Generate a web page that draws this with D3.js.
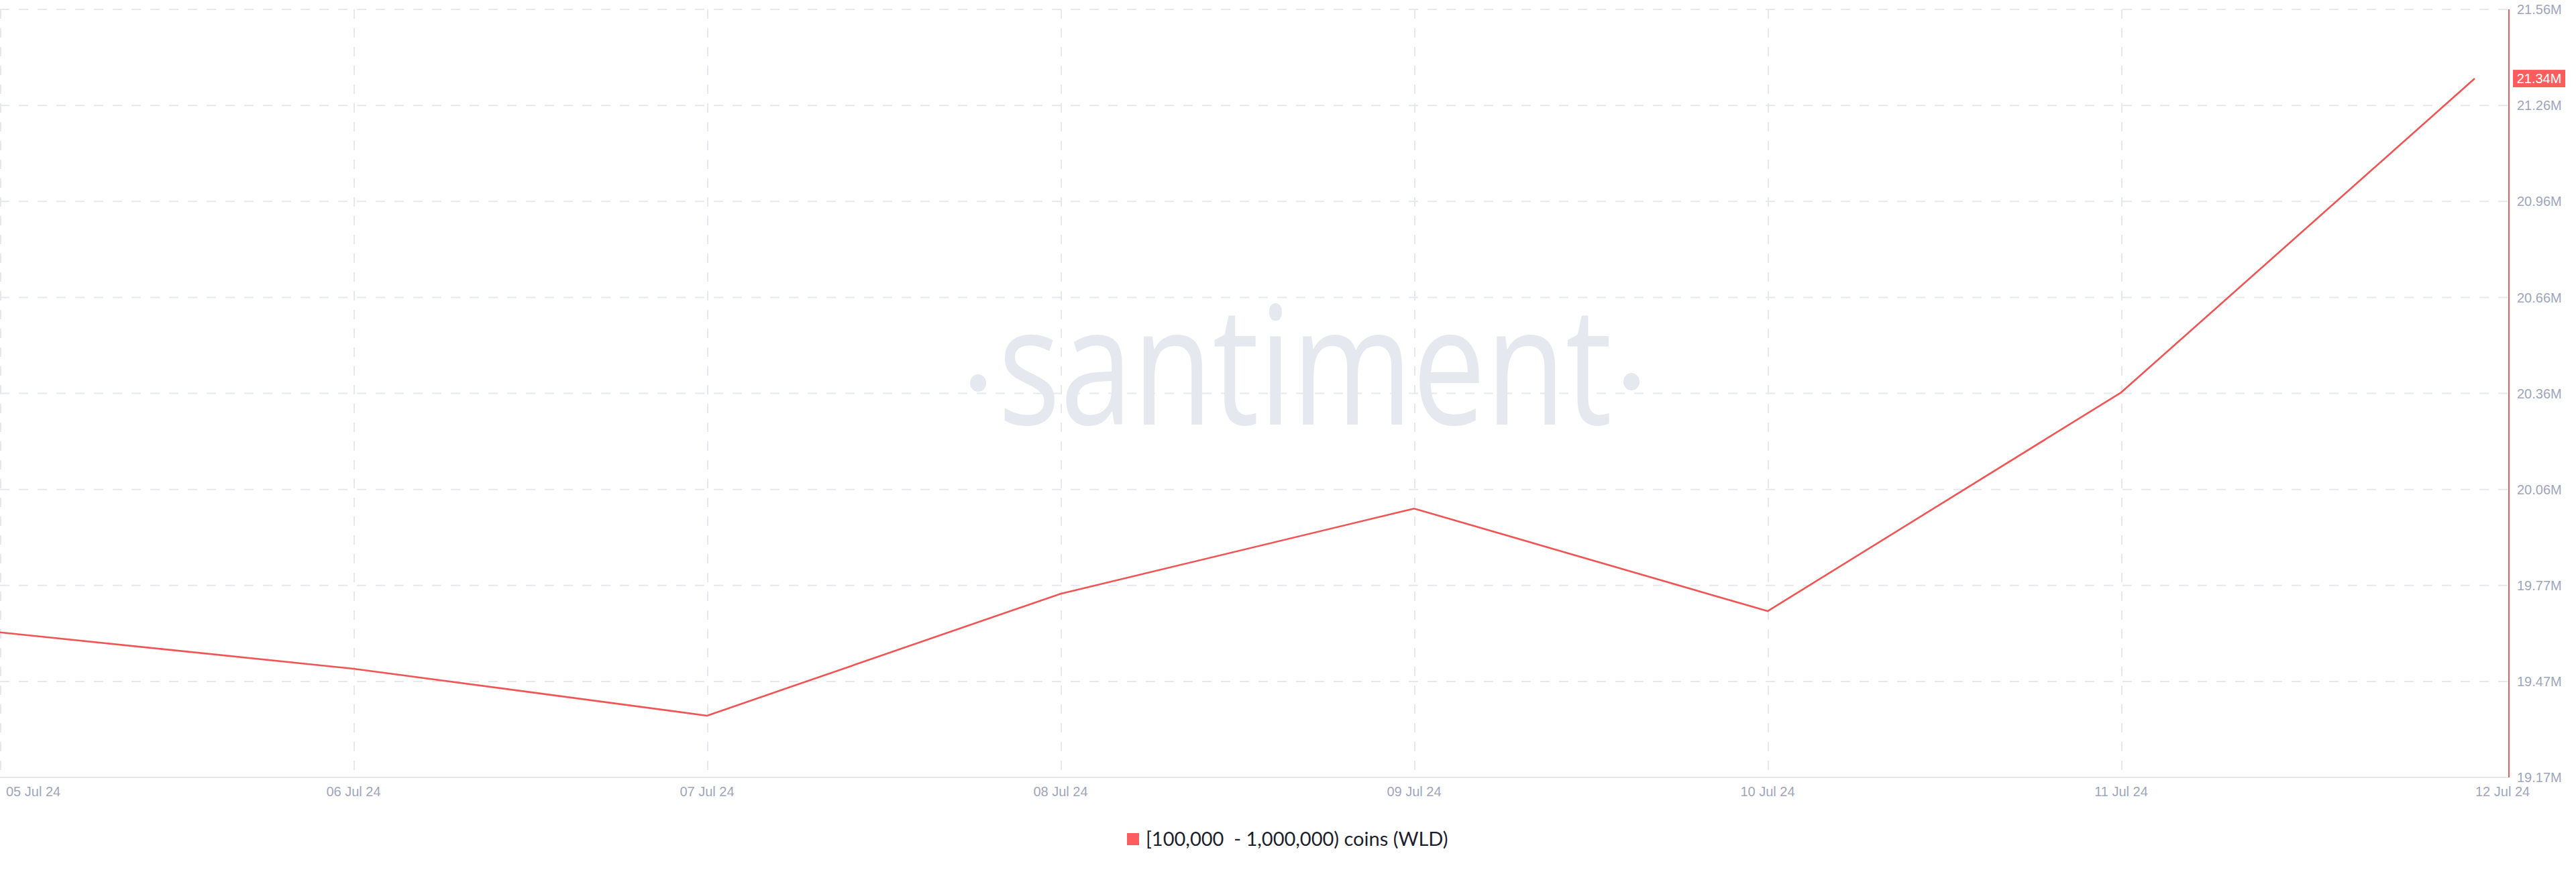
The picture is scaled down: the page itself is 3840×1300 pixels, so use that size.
<!DOCTYPE html>
<html>
<head>
<meta charset="utf-8">
<script src="https://cdn.jsdelivr.net/npm/d3@7"></script>
<style>
  html, body { margin: 0; padding: 0; background: #ffffff; }
  svg { display: block; }
</style>
</head>
<body>
<script>
// ---- data ----
const dates = ["2024-07-05", "2024-07-06", "2024-07-07", "2024-07-08", "2024-07-09", "2024-07-10", "2024-07-11", "2024-07-12"];
const values = [19.620, 19.507, 19.361, 19.740, 20.005, 19.686, 20.366, 21.342]; // millions
const xTickLabels = ["05 Jul 24", "06 Jul 24", "07 Jul 24", "08 Jul 24", "09 Jul 24", "10 Jul 24", "11 Jul 24", "12 Jul 24"];
const yDomain = [19.169, 21.557]; // millions
const yTickCount = 9;
const seriesName = "[100,000  - 1,000,000) coins (WLD)";
const lastValueLabel = "21.34M";

// ---- layout ----
const W = 3840, H = 1300;
const plotLeft = 0, plotRight = 3740, plotTop = 14, plotBottom = 1159;
const red = "#f05454";
const gridColor = "#e6e8ee";
const tickColor = "#a0a5ba";

const parse = d3.timeParse("%Y-%m-%d");
const data = dates.map((d, i) => ({ date: parse(d), value: values[i] }));

const x = d3.scaleTime().domain([parse(dates[0]), parse(dates[dates.length - 1])]).range([0, 3689]);
const y = d3.scaleLinear().domain(yDomain).range([plotBottom, plotTop]);
const yTicks = d3.range(yTickCount).map(i => yDomain[0] + i * (yDomain[1] - yDomain[0]) / (yTickCount - 1));

const svg = d3.select("body").append("svg").attr("width", W).attr("height", H);
svg.append("rect").attr("width", W).attr("height", H).attr("fill", "#fff");

// ---- watermark ----
const wm = svg.append("g").attr("fill", "#e6e8f0");
const wmText = wm.append("text")
  .attr("x", 1488).attr("y", 633)
  .attr("font-family", "'Open Sans', 'Noto Sans', sans-serif")
  .attr("font-size", 245)
  .text("santiment");
wmText.attr("textLength", 915).attr("lengthAdjust", "spacingAndGlyphs");
wm.append("ellipse").attr("cx", 1458).attr("cy", 571).attr("rx", 12).attr("ry", 13);
wm.append("ellipse").attr("cx", 2432).attr("cy", 569).attr("rx", 12).attr("ry", 13);

// ---- grid ----
const grid = svg.append("g");
grid.selectAll("line.h").data(yTicks).join("line")
  .attr("x1", plotLeft).attr("x2", plotRight)
  .attr("y1", d => y(d)).attr("y2", d => y(d))
  .attr("stroke", gridColor).attr("stroke-width", 2)
  .attr("stroke-dasharray", "14,14");
grid.selectAll("line.v").data(data.slice(0, data.length - 1)).join("line")
  .attr("x1", d => x(d.date) + 1).attr("x2", d => x(d.date) + 1)
  .attr("y1", plotTop).attr("y2", plotBottom)
  .attr("stroke", gridColor).attr("stroke-width", 2)
  .attr("stroke-dasharray", "14,14");

// ---- x baseline ----
svg.append("line")
  .attr("x1", plotLeft).attr("x2", plotRight)
  .attr("y1", plotBottom).attr("y2", plotBottom)
  .attr("stroke", "#e6e7ec").attr("stroke-width", 2);

// ---- right axis line ----
svg.append("line")
  .attr("x1", plotRight).attr("x2", plotRight)
  .attr("y1", plotTop).attr("y2", plotBottom)
  .attr("stroke", "#e0605f").attr("stroke-width", 2);

// ---- y tick labels ----
svg.append("g").selectAll("text").data(yTicks).join("text")
  .attr("x", 3752).attr("y", d => y(d))
  .attr("dy", "0.36em")
  .attr("font-family", "'Liberation Sans', Arial, sans-serif")
  .attr("font-size", 20)
  .attr("fill", tickColor)
  .text(d => d.toFixed(2) + "M");

// ---- x tick labels ----
svg.append("g").selectAll("text").data(data).join("text")
  .attr("x", (d, i) => i === 0 ? x(d.date) + 9 : (i === data.length - 1 ? x(d.date) + 1 : x(d.date)))
  .attr("y", 1180).attr("dy", "0.36em")
  .attr("text-anchor", (d, i) => (i === 0 || i === data.length - 1) ? "start" : "middle")
  .attr("font-family", "'Liberation Sans', Arial, sans-serif")
  .attr("font-size", 20)
  .attr("fill", tickColor)
  .text((d, i) => xTickLabels[i]);

// ---- line ----
const line = d3.line().x(d => x(d.date)).y(d => y(d.value));
svg.append("path").datum(data)
  .attr("d", line)
  .attr("fill", "none")
  .attr("stroke", red)
  .attr("stroke-width", 2.6)
  .attr("stroke-linejoin", "round");

// ---- last value label ----
const last = data[data.length - 1];
const ly = y(last.value);
svg.append("rect")
  .attr("x", 3746).attr("y", ly - 13).attr("width", 78).attr("height", 26)
  .attr("fill", "#ff5d5d");
svg.append("text")
  .attr("x", 3785).attr("y", ly).attr("dy", "0.36em")
  .attr("text-anchor", "middle")
  .attr("font-family", "'Liberation Sans', Arial, sans-serif")
  .attr("font-size", 20)
  .attr("fill", "#ffffff")
  .text(lastValueLabel);

// ---- legend ----
const lg = svg.append("g");
lg.append("rect").attr("x", 1680).attr("y", 1242).attr("width", 18).attr("height", 18).attr("fill", "#ff5d5d");
lg.append("text")
  .attr("x", 1708).attr("y", 1251).attr("dy", "0.36em")
  .attr("font-family", "Lato, 'Open Sans', sans-serif")
  .attr("font-size", 29)
  .attr("fill", "#1d1f2e")
  .style("white-space", "pre")
  .text(seriesName);
</script>
</body>
</html>
